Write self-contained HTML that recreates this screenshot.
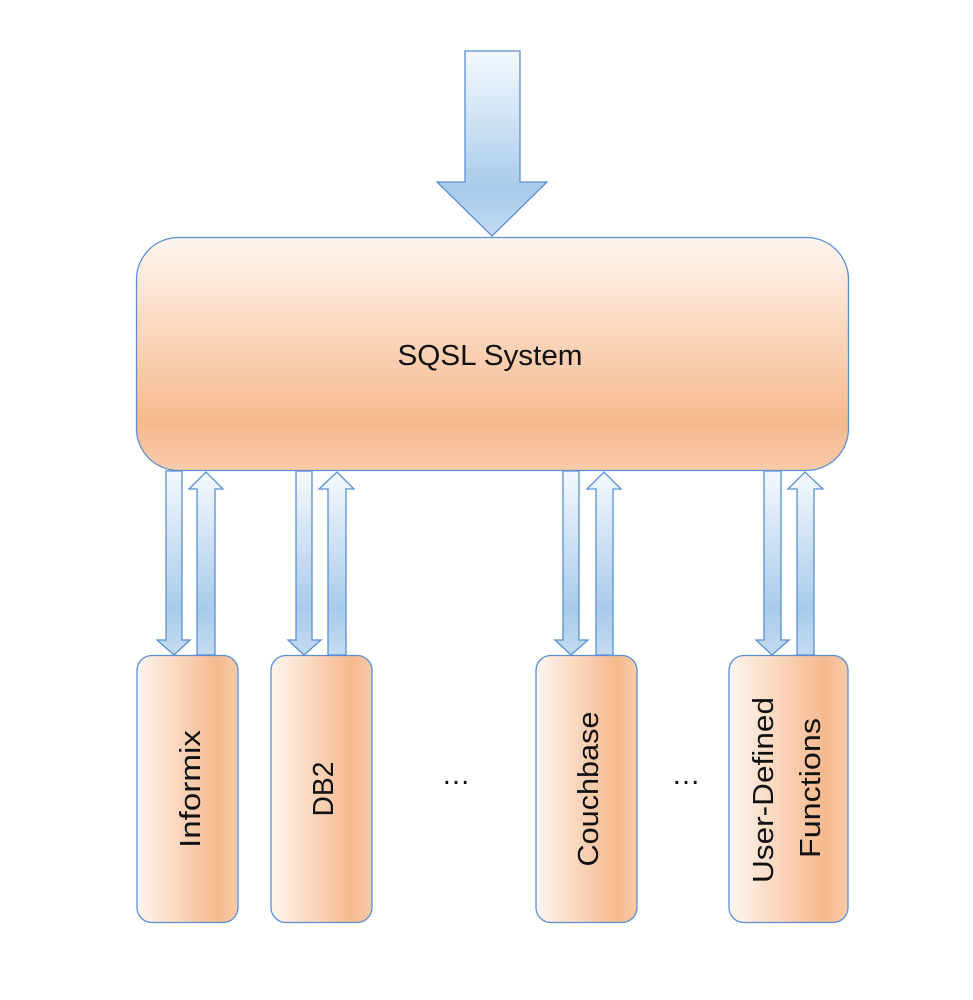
<!DOCTYPE html>
<html><head><style>body{margin:0;background:#fff}svg{display:block}</style></head><body>
<svg width="973" height="1000" viewBox="0 0 973 1000" xmlns="http://www.w3.org/2000/svg" font-family="Liberation Sans, sans-serif">
<defs>
<linearGradient id="bv" x1="0" y1="0" x2="0" y2="1">
<stop offset="0" stop-color="#f5f9fe"/><stop offset="0.75" stop-color="#a9cbea"/><stop offset="1" stop-color="#c4dbf1"/></linearGradient>
<linearGradient id="ov" x1="0" y1="0" x2="0" y2="1">
<stop offset="0" stop-color="#fef6f0"/><stop offset="0.8" stop-color="#f6b98e"/><stop offset="1" stop-color="#f8cbaa"/></linearGradient>
<linearGradient id="oh" x1="0" y1="0" x2="1" y2="0">
<stop offset="0" stop-color="#fef6f0"/><stop offset="0.8" stop-color="#f6b98e"/><stop offset="1" stop-color="#f8cbaa"/></linearGradient>
</defs>
<g stroke="#5b8fd4" stroke-width="1.3">
<polygon points="465,51 520,51 520,182 547,182 492,236 437,182 465,182" fill="url(#bv)"/>
<rect x="136.5" y="237.5" width="712" height="233" rx="42" fill="url(#ov)"/>
<polygon points="166,471 182,471 182,640 190,640 174,655 157,640 166,640" fill="url(#bv)"/>
<polygon points="197,655 215,655 215,489 223,489 206,472 189,489 197,489" fill="url(#bv)"/>
<polygon points="296,471 312,471 312,640 321,640 304,655 288,640 296,640" fill="url(#bv)"/>
<polygon points="328,655 346,655 346,489 354,489 337,472 319,489 328,489" fill="url(#bv)"/>
<polygon points="563,471 579,471 579,640 588,640 571,655 555,640 563,640" fill="url(#bv)"/>
<polygon points="596,655 613,655 613,489 621,489 604,472 587,489 596,489" fill="url(#bv)"/>
<polygon points="764,471 781,471 781,640 789,640 772,655 756,640 764,640" fill="url(#bv)"/>
<polygon points="797,655 814,655 814,489 823,489 805,472 788,489 797,489" fill="url(#bv)"/>
<rect x="137" y="655.5" width="101" height="267" rx="15" fill="url(#oh)"/>
<rect x="271" y="655.5" width="101" height="267" rx="15" fill="url(#oh)"/>
<rect x="536" y="655.5" width="101" height="267" rx="15" fill="url(#oh)"/>
<rect x="729" y="655.5" width="119" height="267" rx="15" fill="url(#oh)"/>
</g>
<g fill="#111" font-size="29" text-anchor="middle">
<text x="490" y="365" textLength="185" lengthAdjust="spacingAndGlyphs">SQSL System</text>
<text transform="translate(200,789) rotate(-90)" textLength="118" lengthAdjust="spacingAndGlyphs">Informix</text>
<text transform="translate(333,789) rotate(-90)" textLength="55" lengthAdjust="spacingAndGlyphs">DB2</text>
<text transform="translate(598,789) rotate(-90)" textLength="155" lengthAdjust="spacingAndGlyphs">Couchbase</text>
<text transform="translate(773,790) rotate(-90)" textLength="186" lengthAdjust="spacingAndGlyphs">User-Defined</text>
<text transform="translate(820,788) rotate(-90)" textLength="140" lengthAdjust="spacingAndGlyphs">Functions</text>
<text x="456" y="784">…</text>
<text x="686" y="784">…</text>
</g>
</svg>
</body></html>
